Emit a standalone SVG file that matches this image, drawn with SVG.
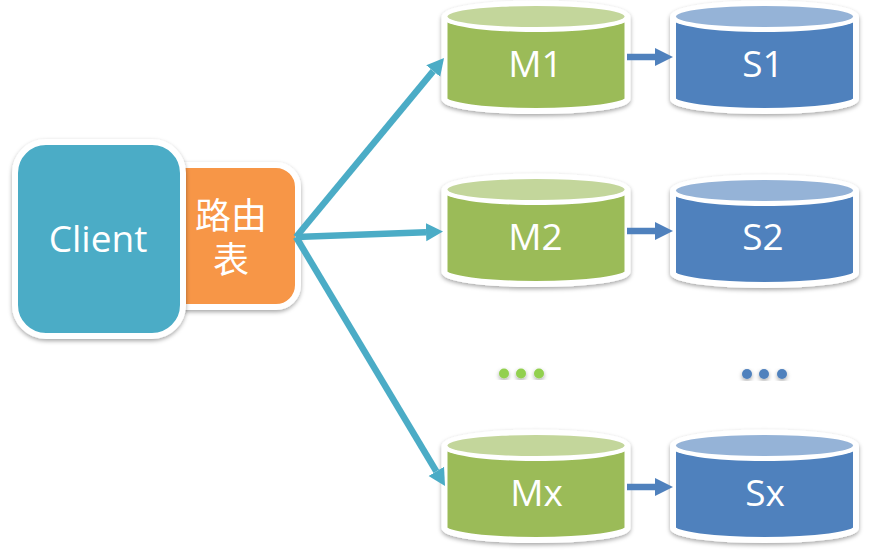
<svg xmlns="http://www.w3.org/2000/svg" width="871" height="550" viewBox="0 0 871 550">
<style>
text{font-family:"Open Sans","Noto Sans","Noto Sans CJK SC",sans-serif;fill:#fff;text-anchor:middle;font-size:37px}
.cjk{font-family:"Noto Sans CJK SC",sans-serif;font-size:36px}
.box{stroke:#fff;stroke-width:6;filter:url(#sh)}
.cl{stroke:#4bacc6;stroke-width:6.5;fill:none}
.bl{stroke:#4f81bd;stroke-width:6.5;fill:none}
.g{fill:#9bbb59}.gl{fill:#c3d69b}.b{fill:#4f81bd}.bt{fill:#95b3d7}
.gd{fill:#92d050}
</style>
<defs>
<filter id="sh" x="-10%" y="-10%" width="120%" height="125%"><feDropShadow dx="0" dy="2" stdDeviation="2" flood-color="#000" flood-opacity=".35"/></filter>
<marker id="ac" markerUnits="userSpaceOnUse" markerWidth="20" markerHeight="22" refX="0" refY="11" orient="auto"><path d="M0,2L17,11L0,20Z" fill="#4bacc6"/></marker>
<marker id="ab" markerUnits="userSpaceOnUse" markerWidth="20" markerHeight="20" refX="0" refY="10" orient="auto"><path d="M0,1L18,10L0,19Z" fill="#4f81bd"/></marker>
<path id="body" d="M-3,17A91.5,13.5 0 0 1 180,17V99A91.5,12 0 0 1 -3,99Z"/>
<ellipse id="band" cx="88.5" cy="18" rx="94" ry="14" fill="#fff"/>
<ellipse id="lid" cx="88.5" cy="16.5" rx="88.5" ry="10.5"/>
</defs>
<g id="router"><rect class="box" x="160" y="165" width="138" height="142" rx="22" fill="#f79646"/>
<text class="cjk"><tspan x="231" y="229">路由</tspan><tspan x="231" y="273">表</tspan></text></g>
<g id="client"><rect class="box" x="15" y="142" width="168" height="194" rx="31" fill="#4bacc6"/><text x="98" y="252">Client</text></g>
<g id="m1" transform="translate(447.5,0)"><use href="#body" class="box g"/><use href="#band"/><use href="#lid" class="gl"/><text x="88" y="77">M1</text></g>
<g id="s1" transform="translate(676,0)"><use href="#body" class="box b"/><use href="#band"/><use href="#lid" class="bt"/><text x="87" y="77">S1</text></g>
<g id="m2" transform="translate(447.5,173)"><use href="#body" class="box g"/><use href="#band"/><use href="#lid" class="gl"/><text x="88" y="77">M2</text></g>
<g id="s2" transform="translate(676,174)"><use href="#body" class="box b"/><use href="#band"/><use href="#lid" class="bt"/><text x="87" y="76">S2</text></g>
<g id="mx" transform="translate(447.5,429)"><use href="#body" class="box g"/><use href="#band"/><use href="#lid" class="gl"/><text x="89" y="77">Mx</text></g>
<g id="sx" transform="translate(676,429)"><use href="#body" class="box b"/><use href="#band"/><use href="#lid" class="bt"/><text x="89" y="77">Sx</text></g>
<g id="dots-m" filter="url(#sh)"><circle class="gd" cx="504" cy="373.5" r="5"/><circle class="gd" cx="521" cy="373.5" r="5"/><circle class="gd" cx="539" cy="373.5" r="5"/></g>
<g id="dots-s" filter="url(#sh)"><circle class="b" cx="747" cy="374" r="5"/><circle class="b" cx="764" cy="374" r="5"/><circle class="b" cx="782" cy="374" r="5"/></g>
<g id="connectors">
<path class="cl" d="M296,237L433.2,71.1" marker-end="url(#ac)"/>
<path class="cl" d="M296,237L426,232.2" marker-end="url(#ac)"/>
<path class="cl" d="M296,237L436.3,471.4" marker-end="url(#ac)"/>
<path class="bl" d="M627,57H655" marker-end="url(#ab)"/>
<path class="bl" d="M627,231H655" marker-end="url(#ab)"/>
<path class="bl" d="M627,487H655" marker-end="url(#ab)"/>
</g>
</svg>
